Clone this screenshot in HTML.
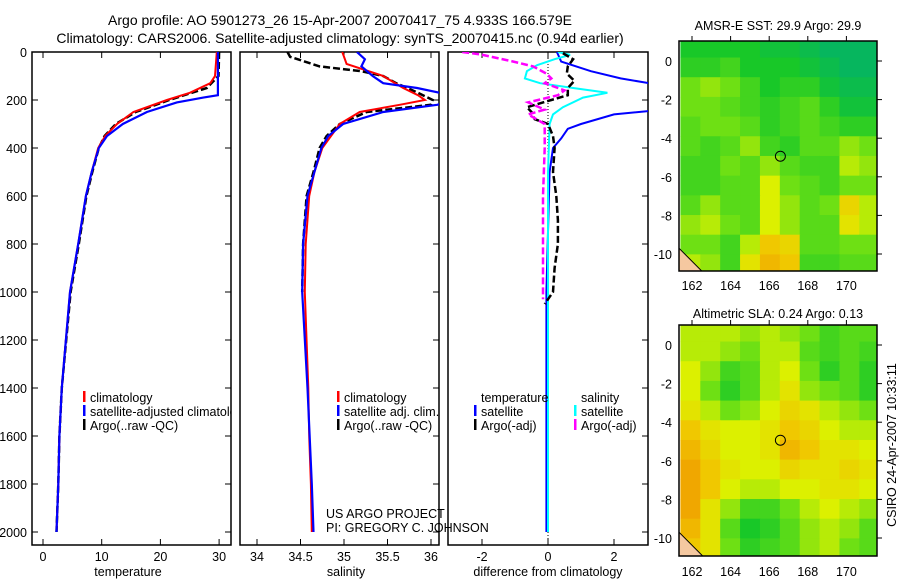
<!DOCTYPE html>
<html><head><meta charset="utf-8"><style>
body{margin:0;background:#fff}
svg{display:block;font-family:"Liberation Sans",sans-serif}
</style></head><body>
<svg id="c" width="900" height="580" viewBox="0 0 900 580" xmlns="http://www.w3.org/2000/svg">
<g font-size="14" text-anchor="middle">
<text x="340" y="25">Argo profile: AO 5901273_26 15-Apr-2007 20070417_75 4.933S 166.579E</text>
<text x="340" y="43">Climatology: CARS2006. Satellite-adjusted climatology: synTS_20070415.nc (0.94d earlier)</text>
</g>
<text x="778" y="30" font-size="12.5" text-anchor="middle">AMSR-E SST: 29.9 Argo: 29.9</text>
<text x="778" y="318" font-size="12.5" text-anchor="middle">Altimetric SLA: 0.24 Argo: 0.13</text>
<text transform="translate(896,445) rotate(-90)" font-size="12.5" text-anchor="middle">CSIRO 24-Apr-2007 10:33:11</text>
</svg>
<script>
// ---- data ----
const depthTicks=[0,200,400,600,800,1000,1200,1400,1600,1800,2000];
const tempTicks=[0,10,20,30];
const salTicks=[34,34.5,35,35.5,36];
const diffTicks=[-2,0,2];
const tClimD=[0,100,130,170,200,250,300,350,400,500,600,800,1000,1400,1600,1800,2000];
const tClimV=[29.6,29.3,28.5,25,21.1,15.4,12.6,10.6,9.4,8.3,7.3,6.0,4.6,3.2,2.8,2.6,2.3];
const tSatD=[0,180,190,210,250,300,350,400,500,600,800,1000,1400,1600,1800,2000];
const tSatV=[29.8,29.8,27.3,22.8,17.7,13.6,10.9,9.5,8.3,7.3,6.0,4.6,3.2,2.8,2.6,2.3];
const tArgoD=[0,100,150,200,250,300,350,400,500,600,800,1000,1400,1600,1800,2000];
const tArgoV=[30.0,29.9,27.9,21.5,15.8,12.4,10.5,9.5,8.4,7.4,6.1,4.7,3.2,2.8,2.6,2.3];
const sClimD=[0,50,100,150,180,200,220,250,300,400,500,600,800,1000,1400,1600,1800,2000];
const sClimV=[34.98,35.03,35.45,35.68,35.85,35.93,35.64,35.18,34.95,34.75,34.66,34.6,34.56,34.55,34.59,34.6,34.62,34.63];
const sSatD=[0,30,60,100,130,150,170,200,220,250,300,350,400,500,600,800,1000,1400,1800,2000];
const sSatV=[35.15,35.24,35.2,35.33,35.45,35.84,36.1,36.3,36.07,35.45,34.99,34.82,34.74,34.66,34.58,34.53,34.52,34.58,34.63,34.65];
const sArgoD=[0,20,60,80,100,130,170,200,220,250,300,350,400,500,600,800,1000];
const sArgoV=[34.35,34.38,34.72,35.2,35.45,35.6,35.85,36.02,36.0,35.26,34.95,34.8,34.72,34.65,34.57,34.53,34.52];
const dTSatD=[0,40,80,110,140,200,240,260,300,320,360,400,500,1000,2000];
const dTSatV=[0.27,0.4,1.3,2.2,3.5,5,3.5,2.0,1.0,0.6,0.4,0.15,0.05,-0.05,-0.05];
const dSSatD=[0,12,30,55,80,110,130,150,170,190,230,260,300,500,2000];
const dSSatV=[0.3,0.67,0.2,-0.33,-0.64,-0.7,-0.24,0.76,1.8,1.06,0.45,0.15,0.05,0,0];
const dTArgoD=[5,30,60,90,120,150,180,200,230,250,280,300,350,400,500,600,700,800,900,1000,1050];
const dTArgoV=[0.45,0.76,0.6,0.57,0.8,0.6,0.6,0.1,-0.64,-0.5,-0.4,0.0,0.15,0.2,0.15,0.25,0.3,0.3,0.2,0.15,-0.1];
const dSArgoD=[0,10,40,60,90,110,130,160,180,210,240,260,300,400,600,1000,1030];
const dSArgoV=[-2.6,-2.05,-1.05,-0.45,-0.05,0.1,-0.1,0.5,0.3,-0.6,-0.1,-0.6,-0.1,-0.1,-0.15,-0.15,-0.15];
const lonTicks=[162,164,166,168,170];
const latTicks=[0,-2,-4,-6,-8,-10];
const sstGrid=[
[.2,.2,.2,.2,.15,.15,.1,.05,.05,.05],
[.25,.25,.3,.2,.2,.2,.15,.1,.05,.05],
[.4,.45,.4,.3,.2,.25,.25,.15,.1,.1],
[.4,.4,.35,.3,.25,.3,.35,.25,.15,.15],
[.35,.4,.4,.35,.25,.3,.35,.3,.25,.25],
[.35,.3,.35,.45,.3,.25,.35,.35,.45,.4],
[.3,.3,.4,.35,.45,.35,.3,.3,.5,.45],
[.3,.3,.35,.35,.55,.4,.35,.3,.4,.4],
[.35,.45,.35,.35,.55,.45,.35,.4,.65,.5],
[.45,.5,.4,.35,.55,.45,.35,.35,.6,.5],
[.4,.4,.3,.5,.7,.65,.35,.35,.4,.4],
[.5,.45,.3,.6,.75,.7,.3,.3,.35,.35]];
const slaGrid=[
[.5,.5,.5,.45,.5,.45,.4,.3,.35,.35],
[.5,.5,.45,.4,.5,.5,.35,.3,.35,.3],
[.55,.45,.3,.35,.5,.55,.4,.25,.35,.25],
[.55,.4,.25,.35,.5,.6,.45,.4,.35,.25],
[.6,.5,.4,.45,.55,.65,.6,.5,.45,.4],
[.7,.6,.55,.55,.6,.7,.65,.55,.5,.5],
[.75,.65,.55,.55,.6,.75,.7,.6,.6,.55],
[.8,.7,.6,.55,.55,.65,.6,.6,.65,.6],
[.8,.7,.55,.5,.5,.55,.55,.6,.6,.55],
[.8,.6,.45,.3,.3,.4,.5,.55,.5,.45],
[.75,.6,.35,.2,.25,.35,.45,.5,.45,.35],
[.7,.6,.4,.25,.3,.35,.45,.5,.4,.35]];
const argoLon=166.579, argoLat=-4.933;

// ---- drawing ----
const S=document.getElementById('c'),NS='http://www.w3.org/2000/svg';
function mk(t,a,p){const e=document.createElementNS(NS,t);for(const k in a)e.setAttribute(k,a[k]);(p||S).appendChild(e);return e;}
const TOP=52,BOT=545;
const yD=d=>52+d*0.24;
function panel(x0,x1,xs,ticks,name,label,lcx){
  const g=mk('g',{});
  
  
  mk('rect',{x:x0,y:TOP,width:x1-x0,height:BOT-TOP,fill:'none',stroke:'#000','stroke-width':1.5},g);
  ticks.forEach(t=>{const x=xs(t);
    mk('line',{x1:x,x2:x,y1:BOT,y2:BOT-6,stroke:'#000'},g);
    mk('line',{x1:x,x2:x,y1:TOP,y2:TOP+6,stroke:'#000'},g);
    const tx=mk('text',{x:x,y:561,'font-size':12.5,'text-anchor':'middle'},g);tx.textContent=t;
    
    });
  depthTicks.forEach(d=>{mk('line',{x1:x1,x2:x1-6,y1:yD(d),y2:yD(d),stroke:'#000'},g);
    if(x0<40){mk('line',{x1:x0,x2:x0+6,y1:yD(d),y2:yD(d),stroke:'#000'},g);}});
  const l=mk('text',{x:lcx,y:576,'font-size':12.5,'text-anchor':'middle'},g);l.textContent=label;
  
  
  return g;
}
function series(D,V,xs,col,dash,w,name,clip){
  const pts=D.map((d,i)=>xs(V[i]).toFixed(1)+','+yD(d).toFixed(1)).join(' ');
  const p=mk('polyline',{points:pts,fill:'none',stroke:col,'stroke-width':w,'clip-path':'url(#'+clip+')'});
  if(dash)p.setAttribute('stroke-dasharray',dash);
  
  
}
const defs=mk('defs',{});
[['c1',32,231],['c2',240,439],['c3',448,648]].forEach(c=>{const cp=mk('clipPath',{id:c[0]},defs);mk('rect',{x:c[1],y:TOP,width:c[2]-c[1],height:BOT-TOP},cp);});
depthTicks.forEach(d=>{const t=mk('text',{x:27,y:yD(d)+5,'font-size':12.5,'text-anchor':'end'});t.textContent=d;
  
  });
const xT=t=>43+t*5.87, xS=s=>257+(s-34)*87, xDf=v=>548+v*33;
panel(32,231,xT,tempTicks,'temperature','temperature',128);
panel(240,439,xS,salTicks,'salinity','salinity',346);
panel(448,648,xDf,diffTicks,'difference','difference from climatology',548);
const z=mk('line',{x1:xDf(0),x2:xDf(0),y1:TOP,y2:BOT,stroke:'#000','stroke-dasharray':'1,2'});


series(tArgoD,tArgoV,xT,'#000','7,3',2.5,'temperature-argo-line','c1');
series(tClimD,tClimV,xT,'#f00',null,2,'temperature-climatology-line','c1');
series(tSatD,tSatV,xT,'#00f',null,2.2,'temperature-satellite-line','c1');
series(sArgoD,sArgoV,xS,'#000','7,3',2.5,'salinity-argo-line','c2');
series(sClimD,sClimV,xS,'#f00',null,2,'salinity-climatology-line','c2');
series(sSatD,sSatV,xS,'#00f',null,2.2,'salinity-satellite-line','c2');
series(dTSatD,dTSatV,xDf,'#00f',null,2,'temperature-satellite-diff-line','c3');
series(dSSatD,dSSatV,xDf,'#0ff',null,2,'salinity-satellite-diff-line','c3');
series(dTArgoD,dTArgoV,xDf,'#000','7,3',2.5,'temperature-argo-diff-line','c3');
series(dSArgoD,dSArgoV,xDf,'#f0f','7,3',2.5,'salinity-argo-diff-line','c3');
function leg(x,y,col,txt,name,clip){
  const g=mk('g',{});
  
  
  if(clip)g.setAttribute('clip-path','url(#'+clip+')');
  if(col)mk('rect',{x:x,y:y-11,width:2.5,height:11,fill:col},g);
  const t=mk('text',{x:x+7,y:y,'font-size':12.5},g);t.textContent=txt;
}
leg(83,402,'#f00','climatology','legend-entry-climatology');
leg(83,416,'#00f','satellite-adjusted climatology','legend-entry-satellite','c1');
leg(83,430,'#000','Argo(..raw -QC)','legend-entry-argo');
leg(337,402,'#f00','climatology','legend-entry-climatology');
leg(337,416,'#00f','satellite adj. clim.','legend-entry-satellite');
leg(337,430,'#000','Argo(..raw -QC)','legend-entry-argo');
leg(474,402,null,'temperature','legend-heading-temperature');
leg(474,416,'#00f','satellite','legend-entry-temp-satellite');
leg(474,430,'#000','Argo(-adj)','legend-entry-temp-argo');
leg(574,402,null,'salinity','legend-heading-salinity');
leg(574,416,'#0ff','satellite','legend-entry-sal-satellite');
leg(574,430,'#f0f','Argo(-adj)','legend-entry-sal-argo');
const pi=mk('g',{'font-size':12.5});


mk('text',{x:326,y:518},pi).textContent='US ARGO PROJECT';
mk('text',{x:326,y:532},pi).textContent='PI: GREGORY C. JOHNSON';
const stops=[[0,[0,176,112]],[.2,[24,200,40]],[.4,[110,224,20]],[.55,[220,240,0]],[.7,[240,200,0]],[.85,[240,150,0]],[1,[224,96,0]]];
function col(v){for(let i=1;i<stops.length;i++){if(v<=stops[i][0]){const a=stops[i-1],b=stops[i],f=(v-a[0])/(b[0]-a[0]);return 'rgb('+a[1].map((c,k)=>Math.round(c+(b[1][k]-c)*f)).join(',')+')';}}return 'rgb(224,96,0)';}
function map(y0,y1,lat0,grid,name,labY){
  const lx=lo=>692+(lo-162)*19.3, ly=la=>lat0-la*19.3;
  const g=mk('g',{});
  
  
  const cid='m'+y0;const cp=mk('clipPath',{id:cid},defs);mk('rect',{x:679,y:y0,width:198,height:y1-y0},cp);
  const cg=mk('g',{'clip-path':'url(#'+cid+')'},g);
  grid.forEach((row,r)=>row.forEach((v,c)=>{
    const lo=161.4+c*1.03, la=1.2-r*1.02;
    const rc=mk('rect',{x:lx(lo),y:ly(la),width:20.5,height:20.2,fill:col(v)},cg);
    
    
  }));
  mk('path',{d:`M679,${ly(-9.7)} q10,10 25,${ly(-11)-ly(-9.7)} L679,${y1} Z`,fill:'#f5c8a0',stroke:'#000'},cg);
  mk('rect',{x:679,y:y0,width:198,height:y1-y0,fill:'none',stroke:'#000','stroke-width':1.5},g);
  const ci=mk('circle',{cx:lx(argoLon),cy:ly(argoLat),r:5,fill:'none',stroke:'#000'},g);
  
  
  lonTicks.forEach(lo=>{const x=lx(lo);mk('line',{x1:x,x2:x,y1:y0,y2:y0-5,stroke:'#000'},g);
    const t=mk('text',{x:x,y:labY,'font-size':12.5,'text-anchor':'middle'},g);t.textContent=lo;
    
    });
  latTicks.forEach(la=>{const y=ly(la);mk('line',{x1:877,x2:882,y1:y,y2:y,stroke:'#000'},g);
    const t=mk('text',{x:672,y:y+5,'font-size':12.5,'text-anchor':'end'},g);t.textContent=la;
    
    });
}
map(41,271,61,sstGrid,'sst-map',290);
map(325,556,345,slaGrid,'sla-map',576);
</script>
</body></html>
